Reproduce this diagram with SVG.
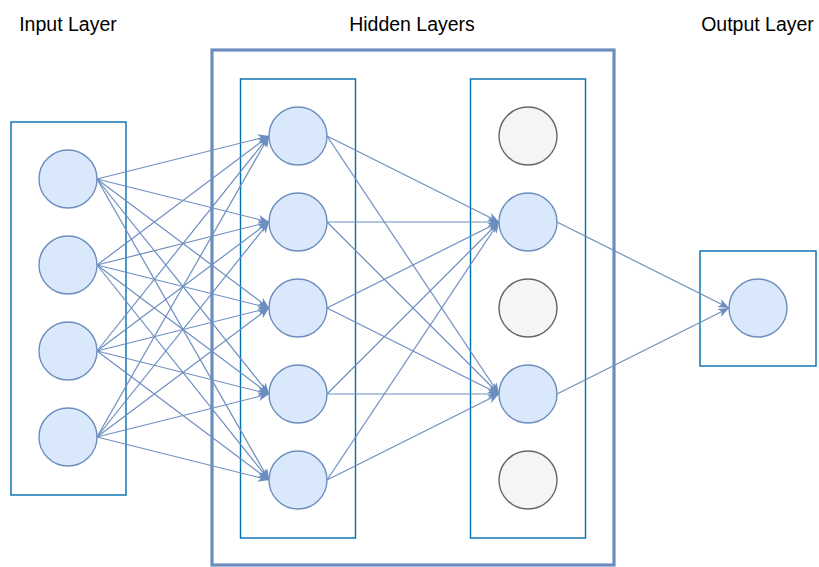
<svg xmlns="http://www.w3.org/2000/svg" width="819" height="567" viewBox="0 0 819 567">
  <style>
    .title { font-family: "Liberation Sans", Arial, sans-serif; font-size: 19.5px; fill: #000; text-anchor: middle; }
    .layer { fill: none; stroke: #006EAF; stroke-width: 1.4; }
    .outer { fill: none; stroke: #6C8EBF; stroke-width: 3.2; }
    .node { fill: #DAE8FC; stroke: #6C8EBF; stroke-width: 1.4; }
    .off { fill: #F5F5F5; stroke: #666666; stroke-width: 1.4; }
    .edge { fill: none; stroke: #6C8EBF; stroke-width: 1.2; marker-end: url(#arrow); }
  </style>
  <defs>
    <marker id="arrow" markerUnits="userSpaceOnUse" markerWidth="12" markerHeight="10" refX="11" refY="4.5" orient="auto">
      <path d="M0,0 L11,4.5 L0,9 L3,4.5 Z" fill="#6C8EBF"/>
    </marker>
  </defs>

  <rect width="819" height="567" fill="#FFFFFF"/>

  <!-- layer titles -->
  <text class="title" x="68" y="31">Input Layer</text>
  <text class="title" x="412" y="31">Hidden Layers</text>
  <text class="title" x="757.5" y="31">Output Layer</text>

  <!-- layer frames -->
  <g id="frames">
    <rect id="input-layer" class="layer" x="11" y="122" width="115" height="373"/>
    <rect id="hidden-layers" class="outer" x="212" y="50" width="402" height="515"/>
    <rect id="hidden-1" class="layer" x="240.5" y="79" width="115" height="459"/>
    <rect id="hidden-2" class="layer" x="470.5" y="79" width="115" height="459"/>
    <rect id="output-layer" class="layer" x="700" y="251" width="116" height="115"/>
  </g>

  <!-- connectors -->
  <g id="connectors">
    <!-- input to hidden 1 -->
    <path class="edge" d="M97,179 L269,136"/>
    <path class="edge" d="M97,179 L269,222"/>
    <path class="edge" d="M97,179 L269,308"/>
    <path class="edge" d="M97,179 L269,394"/>
    <path class="edge" d="M97,179 L269,480"/>
    <path class="edge" d="M97,265 L269,136"/>
    <path class="edge" d="M97,265 L269,222"/>
    <path class="edge" d="M97,265 L269,308"/>
    <path class="edge" d="M97,265 L269,394"/>
    <path class="edge" d="M97,265 L269,480"/>
    <path class="edge" d="M97,351 L269,136"/>
    <path class="edge" d="M97,351 L269,222"/>
    <path class="edge" d="M97,351 L269,308"/>
    <path class="edge" d="M97,351 L269,394"/>
    <path class="edge" d="M97,351 L269,480"/>
    <path class="edge" d="M97,437 L269,136"/>
    <path class="edge" d="M97,437 L269,222"/>
    <path class="edge" d="M97,437 L269,308"/>
    <path class="edge" d="M97,437 L269,394"/>
    <path class="edge" d="M97,437 L269,480"/>
    <!-- hidden 1 to hidden 2 -->
    <path class="edge" d="M327,136 L499,222"/>
    <path class="edge" d="M327,136 L499,394"/>
    <path class="edge" d="M327,222 L499,222"/>
    <path class="edge" d="M327,222 L499,394"/>
    <path class="edge" d="M327,308 L499,222"/>
    <path class="edge" d="M327,308 L499,394"/>
    <path class="edge" d="M327,394 L499,222"/>
    <path class="edge" d="M327,394 L499,394"/>
    <path class="edge" d="M327,480 L499,222"/>
    <path class="edge" d="M327,480 L499,394"/>
    <!-- hidden 2 to output -->
    <path class="edge" d="M557,222 L729,308"/>
    <path class="edge" d="M557,394 L729,308"/>
  </g>

  <!-- input nodes -->
  <g id="in-1"><circle class="node" cx="68" cy="179" r="29"/></g>
  <g id="in-2"><circle class="node" cx="68" cy="265" r="29"/></g>
  <g id="in-3"><circle class="node" cx="68" cy="351" r="29"/></g>
  <g id="in-4"><circle class="node" cx="68" cy="437" r="29"/></g>

  <!-- hidden layer 1 nodes -->
  <g id="h1-1"><circle class="node" cx="298" cy="136" r="29"/></g>
  <g id="h1-2"><circle class="node" cx="298" cy="222" r="29"/></g>
  <g id="h1-3"><circle class="node" cx="298" cy="308" r="29"/></g>
  <g id="h1-4"><circle class="node" cx="298" cy="394" r="29"/></g>
  <g id="h1-5"><circle class="node" cx="298" cy="480" r="29"/></g>

  <!-- hidden layer 2 nodes (dropped units in grey) -->
  <g id="h2-1"><circle class="off" cx="528" cy="136" r="29"/></g>
  <g id="h2-2"><circle class="node" cx="528" cy="222" r="29"/></g>
  <g id="h2-3"><circle class="off" cx="528" cy="308" r="29"/></g>
  <g id="h2-4"><circle class="node" cx="528" cy="394" r="29"/></g>
  <g id="h2-5"><circle class="off" cx="528" cy="480" r="29"/></g>

  <!-- output node -->
  <g id="out-1"><circle class="node" cx="758" cy="308" r="29"/></g>
</svg>
